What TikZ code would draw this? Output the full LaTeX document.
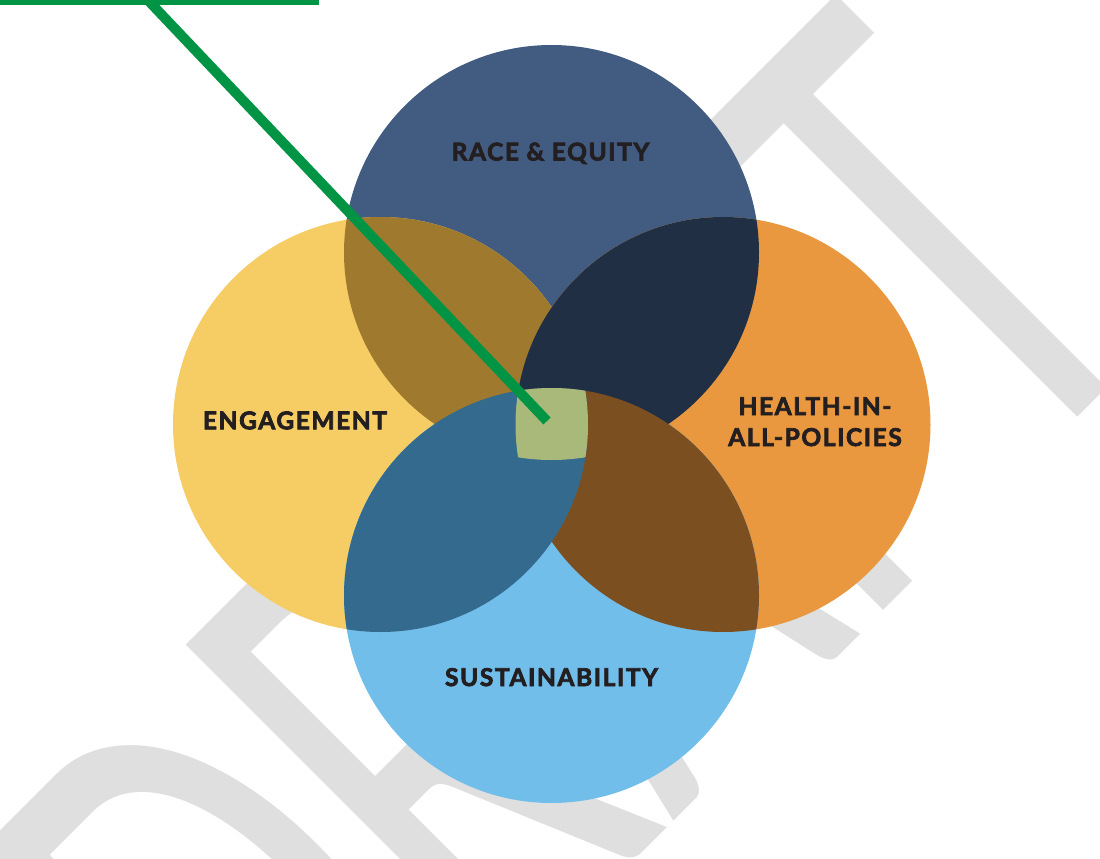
\documentclass[tikz,border=0pt]{standalone}
\usepackage{fontspec}
\usepackage{graphicx}
\newfontfamily\lblfont{Lato}[LetterSpace=6.5, BoldFeatures={FakeBold=3}]
\newfontfamily\wmfont{Carlito}
\definecolor{cTop}{HTML}{425B80}
\definecolor{cLeft}{HTML}{F6CD65}
\definecolor{cRight}{HTML}{E99840}
\definecolor{cBottom}{HTML}{72BEEB}
\definecolor{cTL}{HTML}{9F7A2E}
\definecolor{cTR}{HTML}{202F43}
\definecolor{cBL}{HTML}{336A8D}
\definecolor{cBR}{HTML}{7B4F20}
\definecolor{cMid}{HTML}{A9B979}
\definecolor{leadgreen}{HTML}{009444}
\definecolor{labeltext}{HTML}{231F20}
\definecolor{wmgray}{HTML}{DFDFDF}
\begin{document}
\begin{tikzpicture}[x=1pt,y=-1pt,
  lbl/.style={font=\lblfont\bfseries\fontsize{24.5}{31}\selectfont, text=labeltext, inner sep=0pt, align=center},
  wm/.style={font=\wmfont\fontsize{463}{463}\selectfont, text=wmgray, inner sep=0pt},
  leader/.style={draw=leadgreen, line width=10pt, line cap=butt}]
\useasboundingbox (0,0) rectangle (1100,859);
\clip (0,0) rectangle (1100,859);
% watermark
\node[wm, rotate=45, anchor=base west] (draft) at (293.1,1201.7) {\scalebox{1}[1.58]{DRAFT}};
% circle centres
\coordinate (cT) at (551.5,252.5);
\coordinate (cB) at (551.5,595.5);
\coordinate (cL) at (380.5,424.5);
\coordinate (cR) at (723,424.5);
% base circles
\fill[cTop] (cT) circle[radius=207.5pt];
\fill[cLeft] (cL) circle[radius=207.5pt];
\fill[cRight] (cR) circle[radius=207.5pt];
\fill[cBottom] (cB) circle[radius=207.5pt];
% overlaps
\begin{scope}\clip (cT) circle[radius=207.5pt]; \fill[cTL] (cL) circle[radius=207.5pt];\end{scope}
\begin{scope}\clip (cT) circle[radius=207.5pt]; \fill[cTR] (cR) circle[radius=207.5pt];\end{scope}
\begin{scope}\clip (cB) circle[radius=207.5pt]; \fill[cBR] (cR) circle[radius=207.5pt];\end{scope}
\begin{scope}\clip (cB) circle[radius=207.5pt]; \fill[cBL] (cL) circle[radius=207.5pt];\end{scope}
\begin{scope}
  \clip (cT) circle[radius=207.5pt];
  \clip (cB) circle[radius=207.5pt];
  \clip (cL) circle[radius=207.5pt];
  \fill[cMid] (cR) circle[radius=207.5pt];
\end{scope}
% leader line
\coordinate (g0) at (0,0);
\coordinate (g1) at (319,0);
\coordinate (gs) at (143,-5);
\coordinate (ge) at (547,421);
\draw[leader] (g0) -- (g1);
\draw[leader] (gs) -- (ge);
% labels
\node[lbl, anchor=base] (race) at (550.5,160.5) {RACE \& EQUITY};
\node[lbl, anchor=base] (engage) at (295,429.3) {ENGAGEMENT};
\node[lbl, anchor=base] (health) at (815,446) {HEALTH-IN-\\ALL-POLICIES};
\node[lbl, anchor=base] (sustain) at (551.5,686) {SUSTAINABILITY};
\end{tikzpicture}
\end{document}
